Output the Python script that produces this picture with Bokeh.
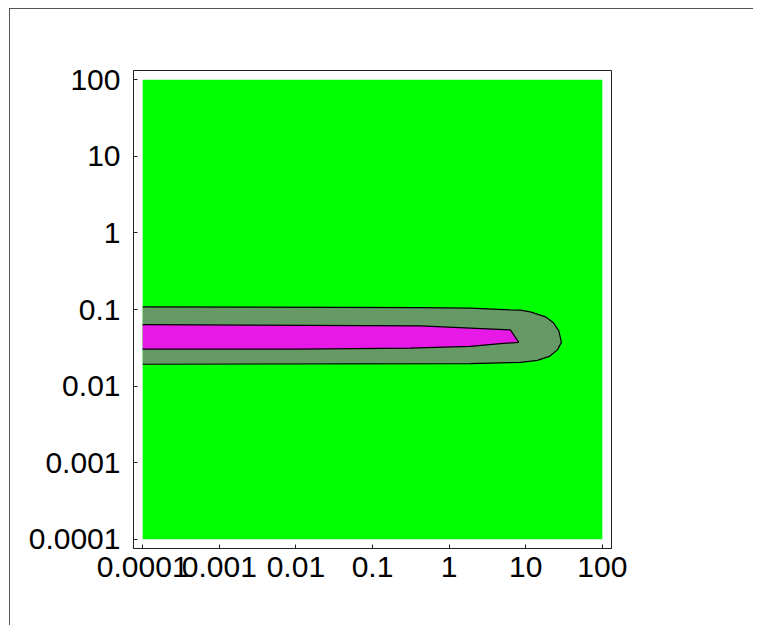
from bokeh.plotting import figure
from bokeh.models import Range1d, FixedTicker
from bokeh.embed import file_html
from bokeh.resources import INLINE

# Data domain (both axes, log scale)
domain_lo = 1e-4
domain_hi = 1e2
pad_decades = 0.12

tick_values = [1e-4, 1e-3, 1e-2, 1e-1, 1.0, 10.0, 100.0]
tick_labels = ["0.0001", "0.001", "0.01", "0.1", "1", "10", "100"]

# Outer contour (grey-green band boundary), traced clockwise from top-left
outer_x = [1e-4, 0.4217, 1.897, 6.31, 8.53, 11.51, 18.07, 23.01, 27.10, 29.24,
           25.94, 20.37, 14.22, 8.53, 1.897, 1e-4]
outer_y = [0.1084, 0.1059, 0.1042, 0.0989, 0.0982, 0.0931, 0.0802, 0.0670, 0.0526, 0.0372,
           0.0297, 0.0244, 0.0217, 0.0204, 0.0197, 0.0193]

# Inner contour (magenta region boundary)
inner_x = [1e-4, 0.4217, 6.31, 8.11, 4.68, 1.897, 0.313, 0.01146, 1e-4]
inner_y = [0.0635, 0.0611, 0.0542, 0.0372, 0.0359, 0.0330, 0.0313, 0.0303, 0.0303]

bg_color = "#00ff00"
band_color = "#669966"
core_color = "#e619e6"
font = "Liberation Sans"

lo = 10 ** (-4 - pad_decades)
hi = 10 ** (2 + pad_decades)

p = figure(width=744, height=617, x_axis_type="log", y_axis_type="log",
           x_range=Range1d(lo, hi), y_range=Range1d(lo, hi),
           output_backend="svg", toolbar_location=None,
           min_border_left=123, min_border_right=143,
           min_border_top=61, min_border_bottom=78,
           styles={"margin-top": "8px", "margin-left": "9px",
                   "border-top": "1px solid #555555",
                   "border-left": "1px solid #555555"})

p.xgrid.visible = False
p.ygrid.visible = False
p.outline_line_color = "#222222"
p.outline_line_width = 1
p.background_fill_color = "white"
p.border_fill_color = "white"

p.quad(left=[domain_lo], right=[domain_hi], bottom=[domain_lo], top=[domain_hi],
       fill_color=bg_color, line_color=None)
p.patch(outer_x, outer_y, fill_color=band_color, line_color=None)
p.patch(inner_x, inner_y, fill_color=core_color, line_color=None)
p.line(outer_x, outer_y, line_color="black", line_width=1.2)
p.line(inner_x, inner_y, line_color="black", line_width=1.2)

overrides = {v: s for v, s in zip(tick_values, tick_labels)}
for ax in (p.xaxis[0], p.yaxis[0]):
    ax.ticker = FixedTicker(ticks=tick_values, minor_ticks=[])
    ax.major_label_overrides = overrides
    ax.major_label_text_font = font
    ax.major_label_text_font_size = "30px"
    ax.major_label_text_color = "black"
    ax.axis_line_color = "#222222"
    ax.major_tick_line_color = "#222222"
    ax.major_tick_in = 4
    ax.major_tick_out = 0
    ax.minor_tick_line_color = None

p.xaxis[0].major_label_standoff = 8
p.yaxis[0].major_label_standoff = 13

open("out.html", "w").write(file_html(p, INLINE))
